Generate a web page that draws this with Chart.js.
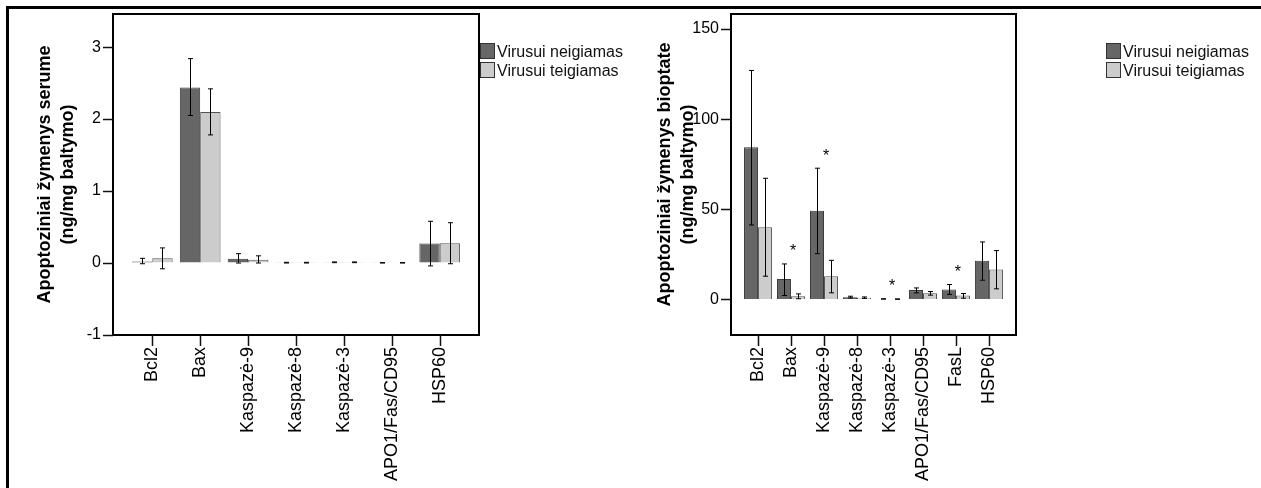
<!DOCTYPE html>
<html>
<head>
<meta charset="utf-8">
<script src="https://cdn.jsdelivr.net/npm/chart.js@4.4.1/dist/chart.umd.min.js"></script>
<style>
  html, body { margin: 0; padding: 0; background: #fff; }
  body { width: 1261px; height: 488px; position: relative; overflow: hidden; font-family: "Liberation Sans", Arial, sans-serif; }
  .frame { position: absolute; left: 6px; top: 6px; right: -10px; bottom: -10px; border-top: 3px solid #000; border-left: 3px solid #000; }
  canvas { position: absolute; top: 0; }
  .legend { position: absolute; top: 43px; font-size: 16px; color: #111; }
  .legend div { height: 19px; line-height: 17px; white-space: nowrap; }
  .legend span { display: inline-block; width: 13px; height: 14px; border: 1px solid #333; vertical-align: top; margin-right: 2px; }
</style>
</head>
<body>
<div class="frame"></div>
<canvas id="serum" width="620" height="488" style="left:0"></canvas>
<canvas id="biop" width="641" height="488" style="left:620px"></canvas>
<div class="legend" style="left:480px">
  <div><span style="background:#666"></span>Virusui neigiamas</div>
  <div><span style="background:#ccc"></span>Virusui teigiamas</div>
</div>
<div class="legend" style="left:1106px">
  <div><span style="background:#666"></span>Virusui neigiamas</div>
  <div><span style="background:#ccc"></span>Virusui teigiamas</div>
</div>
<script>
// serumas
const serumCategories = ['Bcl2', 'Bax', 'Kaspazė-9', 'Kaspazė-8', 'Kaspazė-3', 'APO1/Fas/CD95', 'HSP60'];
const serumNeg = [0.02, 2.44, 0.06, 0.005, 0.01, 0.003, 0.27];
const serumNegLow = [-0.01, 2.05, 0.0, 0.0, 0.005, 0.0, -0.04];
const serumNegHigh = [0.065, 2.84, 0.13, 0.01, 0.015, 0.006, 0.58];
const serumPos = [0.065, 2.10, 0.045, 0.005, 0.01, 0.003, 0.275];
const serumPosLow = [-0.08, 1.78, 0.0, 0.0, 0.005, 0.0, -0.01];
const serumPosHigh = [0.21, 2.42, 0.10, 0.01, 0.015, 0.006, 0.56];
const serumTicks = [-1, 0, 1, 2, 3];

// bioptatas
const biopCategories = ['Bcl2', 'Bax', 'Kaspazė-9', 'Kaspazė-8', 'Kaspazė-3', 'APO1/Fas/CD95', 'FasL', 'HSP60'];
const biopNeg = [84.4, 11.4, 49.2, 1.3, 0.3, 5.2, 5.5, 21.5];
const biopNegLow = [41.3, 2.2, 25.4, 0.8, 0.2, 3.7, 2.8, 10.7];
const biopNegHigh = [127, 19.7, 72.8, 1.8, 0.4, 6.4, 8.3, 31.9];
const biopPos = [40, 1.8, 12.9, 1.0, 0.2, 3.5, 2.2, 16.6];
const biopPosLow = [12.9, 0.4, 3.7, 0.6, 0.1, 2.4, 0.7, 5.9];
const biopPosHigh = [67.2, 3.1, 21.7, 1.4, 0.3, 4.4, 3.3, 27.1];
const biopTicks = [0, 50, 100, 150];
const biopStars = ['Bax', 'Kaspazė-9', 'Kaspazė-3', 'FasL'];

const seriesNames = ['Virusui neigiamas', 'Virusui teigiamas'];
const FONT = '"Liberation Sans", Arial, sans-serif';

// box around plot area, error bars, stars, tick marks
const extras = {
  id: 'extras',
  afterDraw(chart, args, opts) {
    const ctx = chart.ctx;
    const x = chart.scales.x, y = chart.scales.y;
    const a = chart.chartArea;
    ctx.save();
    ctx.strokeStyle = '#000';
    ctx.fillStyle = '#000';
    ctx.lineWidth = 1;
    chart.data.datasets.forEach((ds, di) => {
      chart.getDatasetMeta(di).data.forEach((bar, i) => {
        const bx = Math.round(bar.x) + 0.5;
        const y1 = y.getPixelForValue(ds.errLow[i]);
        const y2 = y.getPixelForValue(ds.errHigh[i]);
        ctx.beginPath();
        ctx.moveTo(bx, y1); ctx.lineTo(bx, y2);
        ctx.moveTo(bx - 2.5, y1); ctx.lineTo(bx + 2.5, y1);
        ctx.moveTo(bx - 2.5, y2); ctx.lineTo(bx + 2.5, y2);
        ctx.stroke();
      });
    });
    (opts.stars || []).forEach(name => {
      const i = chart.data.labels.indexOf(name);
      const top = Math.max(...chart.data.datasets.map(ds => ds.errHigh[i]));
      ctx.font = '16px ' + FONT;
      ctx.textAlign = 'center';
      ctx.textBaseline = 'middle';
      ctx.fillText('*', x.getPixelForValue(i) + 2, y.getPixelForValue(top) - 12);
    });
    ctx.lineWidth = 2;
    ctx.strokeRect(a.left, a.top, a.right - a.left, a.bottom - a.top);
    // tick marks, drawn last
    ctx.lineWidth = 1.5;
    ctx.strokeStyle = '#111';
    ctx.beginPath();
    for (let i = 0; i < chart.data.labels.length; i++) {
      const px = Math.round(x.getPixelForValue(i)) + 0.5;
      ctx.moveTo(px, a.bottom); ctx.lineTo(px, a.bottom + 11);
    }
    opts.yTicks.forEach(v => {
      const py = Math.round(y.getPixelForValue(v)) + 0.5;
      ctx.moveTo(a.left - 10, py); ctx.lineTo(a.left, py);
    });
    ctx.stroke();
    ctx.restore();
  }
};

function makeChart(id, cats, neg, negLo, negHi, pos, posLo, posHi, ticks, yMin, yMax, axisW, padRight, title, stars) {
  const toXY = arr => arr.map((v, i) => ({ x: i, y: v }));
  return new Chart(document.getElementById(id), {
    type: 'bar',
    data: {
      labels: cats,
      datasets: [
        { label: seriesNames[0], data: toXY(neg), errLow: negLo, errHigh: negHi,
          backgroundColor: '#666666', borderColor: '#3a3a3a', borderWidth: 1 },
        { label: seriesNames[1], data: toXY(pos), errLow: posLo, errHigh: posHi,
          backgroundColor: '#cccccc', borderColor: '#555555', borderWidth: 1 }
      ]
    },
    options: {
      responsive: false,
      animation: false,
      layout: { padding: { left: 0, top: 14, right: padRight, bottom: 0 } },
      datasets: { bar: { categoryPercentage: 0.85, barPercentage: 1.0 } },
      plugins: {
        legend: { display: false },
        tooltip: { enabled: false },
        extras: { stars: stars, yTicks: ticks }
      },
      scales: {
        x: {
          type: 'linear',
          offset: false,
          min: -0.82,
          max: cats.length - 1 + 0.82,
          afterBuildTicks: s => { s.ticks = cats.map((c, i) => ({ value: i })); },
          afterFit: s => { s.height = 153; },
          grid: { offset: false, drawOnChartArea: false, tickLength: 10, color: 'rgba(0,0,0,0)' },
          border: { display: false },
          ticks: {
            autoSkip: false, minRotation: 90, maxRotation: 90, padding: 2,
            color: '#000', font: { family: FONT, size: 18 },
            callback: v => cats[v]
          }
        },
        y: {
          min: yMin,
          max: yMax,
          afterBuildTicks: s => { s.ticks = ticks.map(v => ({ value: v })); },
          afterFit: s => { s.width = axisW; },
          grid: { drawOnChartArea: false, tickLength: 9, color: 'rgba(0,0,0,0)' },
          border: { display: false },
          ticks: { color: '#000', padding: 3, font: { family: FONT, size: 16 } },
          title: {
            display: true,
            text: title,
            color: '#000',
            padding: { top: 34, bottom: 0 },
            font: { family: FONT, size: 18, weight: 'bold', lineHeight: 1.27 }
          }
        }
      }
    },
    plugins: [extras]
  });
}

makeChart('serum', serumCategories, serumNeg, serumNegLow, serumNegHigh, serumPos, serumPosLow, serumPosHigh,
  serumTicks, -1, 3.46, 113, 141, ['Apoptoziniai žymenys serume', '(ng/mg baltymo)'], []);

makeChart('biop', biopCategories, biopNeg, biopNegLow, biopNegHigh, biopPos, biopPosLow, biopPosHigh,
  biopTicks, -19.7, 158.3, 111, 245, ['Apoptoziniai žymenys bioptate', '(ng/mg baltymo)'], biopStars);
</script>
</body>
</html>
